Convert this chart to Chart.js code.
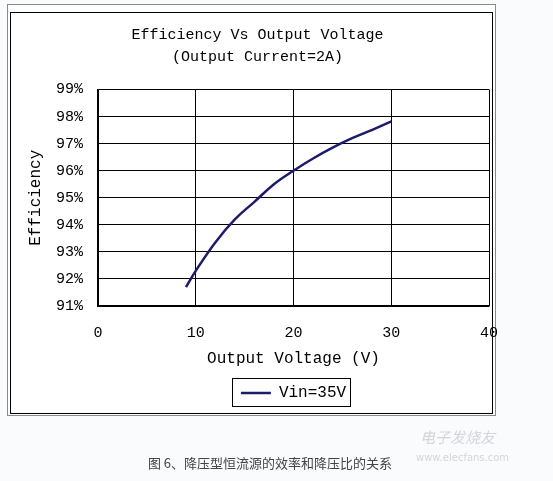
<!DOCTYPE html>
<html>
<head>
<meta charset="utf-8">
<script src="https://cdn.jsdelivr.net/npm/chart.js@4.4.1/dist/chart.umd.min.js"></script>
<style>
  body { margin:0; background:#fafbfd; }
  #wrap { position:relative; width:553px; height:481px; }
  #outer { position:absolute; left:7px; top:4px; width:489px; height:412px; border:1px solid #8a8a8a; background:#fff; box-sizing:border-box; }
  #inner { position:absolute; left:10px; top:12px; width:483px; height:402px; border:1px solid #000; box-sizing:border-box; }
  canvas { position:absolute; left:0; top:0; }
  #caption { position:absolute; left:0; width:540px; top:453px; text-align:center; font:13px "Noto Sans CJK SC", sans-serif; color:#444; }
  #wm1 { position:absolute; left:420px; top:426px; font:15px "Noto Sans CJK SC", sans-serif; color:#d2d6dc; font-style:italic; }
  #wm2 { position:absolute; left:416px; top:452px; font:10px "DejaVu Sans", sans-serif; color:#d2d6dc; }
</style>
</head>
<body>
<div id="wrap">
  <div id="outer"></div>
  <div id="inner"></div>
  <canvas id="grafico" width="553" height="481"></canvas>
  <div id="caption">图 6、降压型恒流源的效率和降压比的关系</div>
  <div id="wm1">电子发烧友</div>
  <div id="wm2">www.elecfans.com</div>
</div>
<script>
// dati
var tensioni = [9, 10, 12, 14, 16, 18, 20, 22, 24, 26, 28, 30];
var efficienza = [91.7, 92.3, 93.35, 94.2, 94.85, 95.5, 96.0, 96.45, 96.85, 97.2, 97.5, 97.82];
var etichettaSerie = 'Vin=35V';
var titolo = ['Efficiency Vs Output Voltage', '(Output Current=2A)'];

var font = 'Liberation Mono';

// legenda centrata sotto l'area del grafico, con bordo
var bordoLegenda = {
	id: 'bordoLegenda',
	afterLayout: function (chart) {
		var lg = chart.legend;
		var ca = chart.chartArea;
		var dx = (ca.left + ca.right) / 2 - (lg.left + lg.right) / 2;
		lg.left += dx;
		lg.right += dx;
	},
	afterDraw: function (chart) {
		var box = chart.legend.legendHitBoxes[0];
		if (!box) return;
		var ctx = chart.ctx;
		ctx.save();
		ctx.strokeStyle = '#000';
		ctx.lineWidth = 1;
		ctx.strokeRect(Math.round(box.left) - 8.5, Math.round(box.top) - 6.5, Math.round(box.width) + 13, Math.round(box.height) + 12);
		ctx.restore();
	}
};

var punti = [];
for (var i = 0; i < tensioni.length; i++) {
	punti.push({ x: tensioni[i], y: efficienza[i] });
}

new Chart(document.getElementById('grafico'), {
	type: 'line',
	data: {
		datasets: [{
			label: etichettaSerie,
			data: punti,
			borderColor: '#1c1c6a',
			borderWidth: 2.5,
			pointRadius: 0,
			tension: 0.4,
			fill: false
		}]
	},
	options: {
		responsive: false,
		animation: false,
		layout: { padding: { left: 26, right: 64, top: 14, bottom: 70 } },
		plugins: {
			title: {
				display: true,
				text: titolo,
				color: '#000',
				font: { family: font, size: 15, weight: 'normal', lineHeight: 1.45 },
				padding: { top: 10, bottom: 22 }
			},
			legend: {
				position: 'bottom',
				labels: {
					color: '#000',
					font: { family: font, size: 16 },
					usePointStyle: true,
					pointStyle: 'line',
					pointStyleWidth: 30,
					padding: 14
				}
			},
			tooltip: { enabled: false }
		},
		scales: {
			x: {
				type: 'linear',
				min: 0,
				max: 40,
				afterFit: function (s) { s.height = 65; },
				ticks: { stepSize: 10, color: '#000', font: { family: font, size: 15 }, padding: 18 },
				grid: { color: '#000', drawTicks: false, lineWidth: 1 },
				border: { color: '#000', width: 1.5 },
				title: { display: true, text: 'Output Voltage (V)', color: '#000', font: { family: font, size: 16 }, padding: { top: 0, bottom: 3 } }
			},
			y: {
				min: 91,
				max: 99,
				afterFit: function (s) { s.width = 72; },
				ticks: {
					stepSize: 1,
					color: '#000',
					font: { family: font, size: 15 },
					padding: 15,
					callback: function (v) { return v + '%'; }
				},
				grid: { color: '#000', drawTicks: false, lineWidth: 1 },
				border: { color: '#000', width: 1.5 },
				title: { display: true, text: 'Efficiency', color: '#000', font: { family: font, size: 16 }, padding: { top: 0, bottom: 0 } }
			}
		}
	},
	plugins: [bordoLegenda]
});
</script>
</body>
</html>
